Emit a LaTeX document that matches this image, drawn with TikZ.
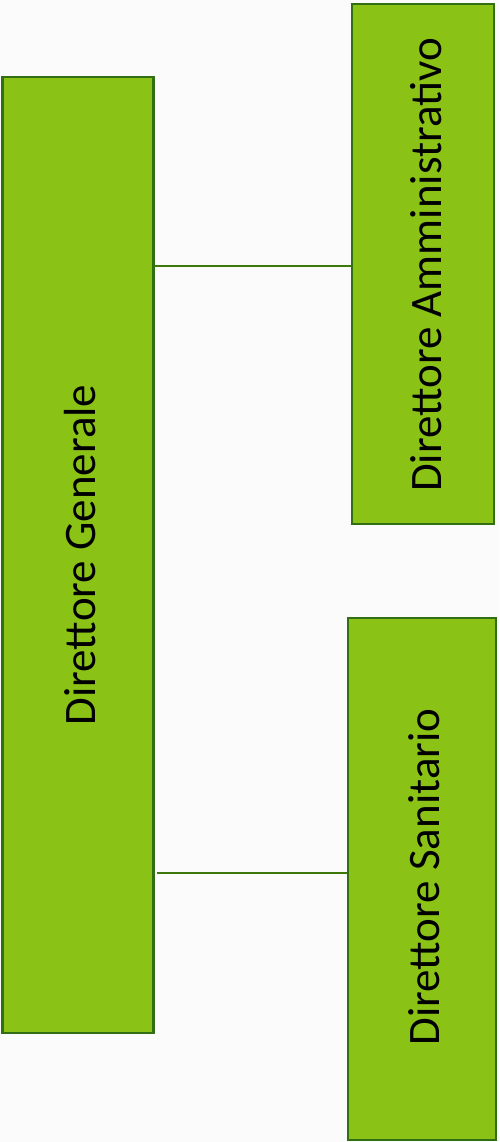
\documentclass[tikz,border=0pt]{standalone}
\usepackage{fontspec}
\setmainfont{Carlito}
\definecolor{boxfill}{RGB}{138,194,22}
\definecolor{boxline}{RGB}{50,110,20}
\definecolor{linkc}{RGB}{60,120,10}
\begin{document}
\begin{tikzpicture}[x=1pt,y=-1pt,
  orgbox/.style={draw=boxline,line width=2.5pt,fill=boxfill,inner sep=0pt},
  orgtext/.style={rotate=90,font=\fontsize{45}{54}\selectfont,text=black},
  link/.style={draw=linkc,line width=2pt}]
\useasboundingbox (0,0) rectangle (499,1142);
\fill[white!97!gray] (0,0) rectangle (499,1142);
\node[orgbox,minimum width=151pt,minimum height=956pt] (dg) at (78,555) {};
\node[orgbox,minimum width=142pt,minimum height=520pt] (da) at (423,264) {};
\node[orgbox,minimum width=148pt,minimum height=522pt] (ds) at (422,879) {};
\node[orgtext] (dgt) at (80,555) {Direttore Generale};
\node[orgtext] (dat) at (426,265) {Direttore Amministrativo};
\node[orgtext] (dst) at (424,877) {Direttore Sanitario};
\coordinate (l1a) at (155,266);
\coordinate (l2a) at (157,873);
\draw[link] (l1a) -- (l1a -| da.west);
\draw[link] (l2a) -- (l2a -| ds.west);
\end{tikzpicture}
\end{document}
